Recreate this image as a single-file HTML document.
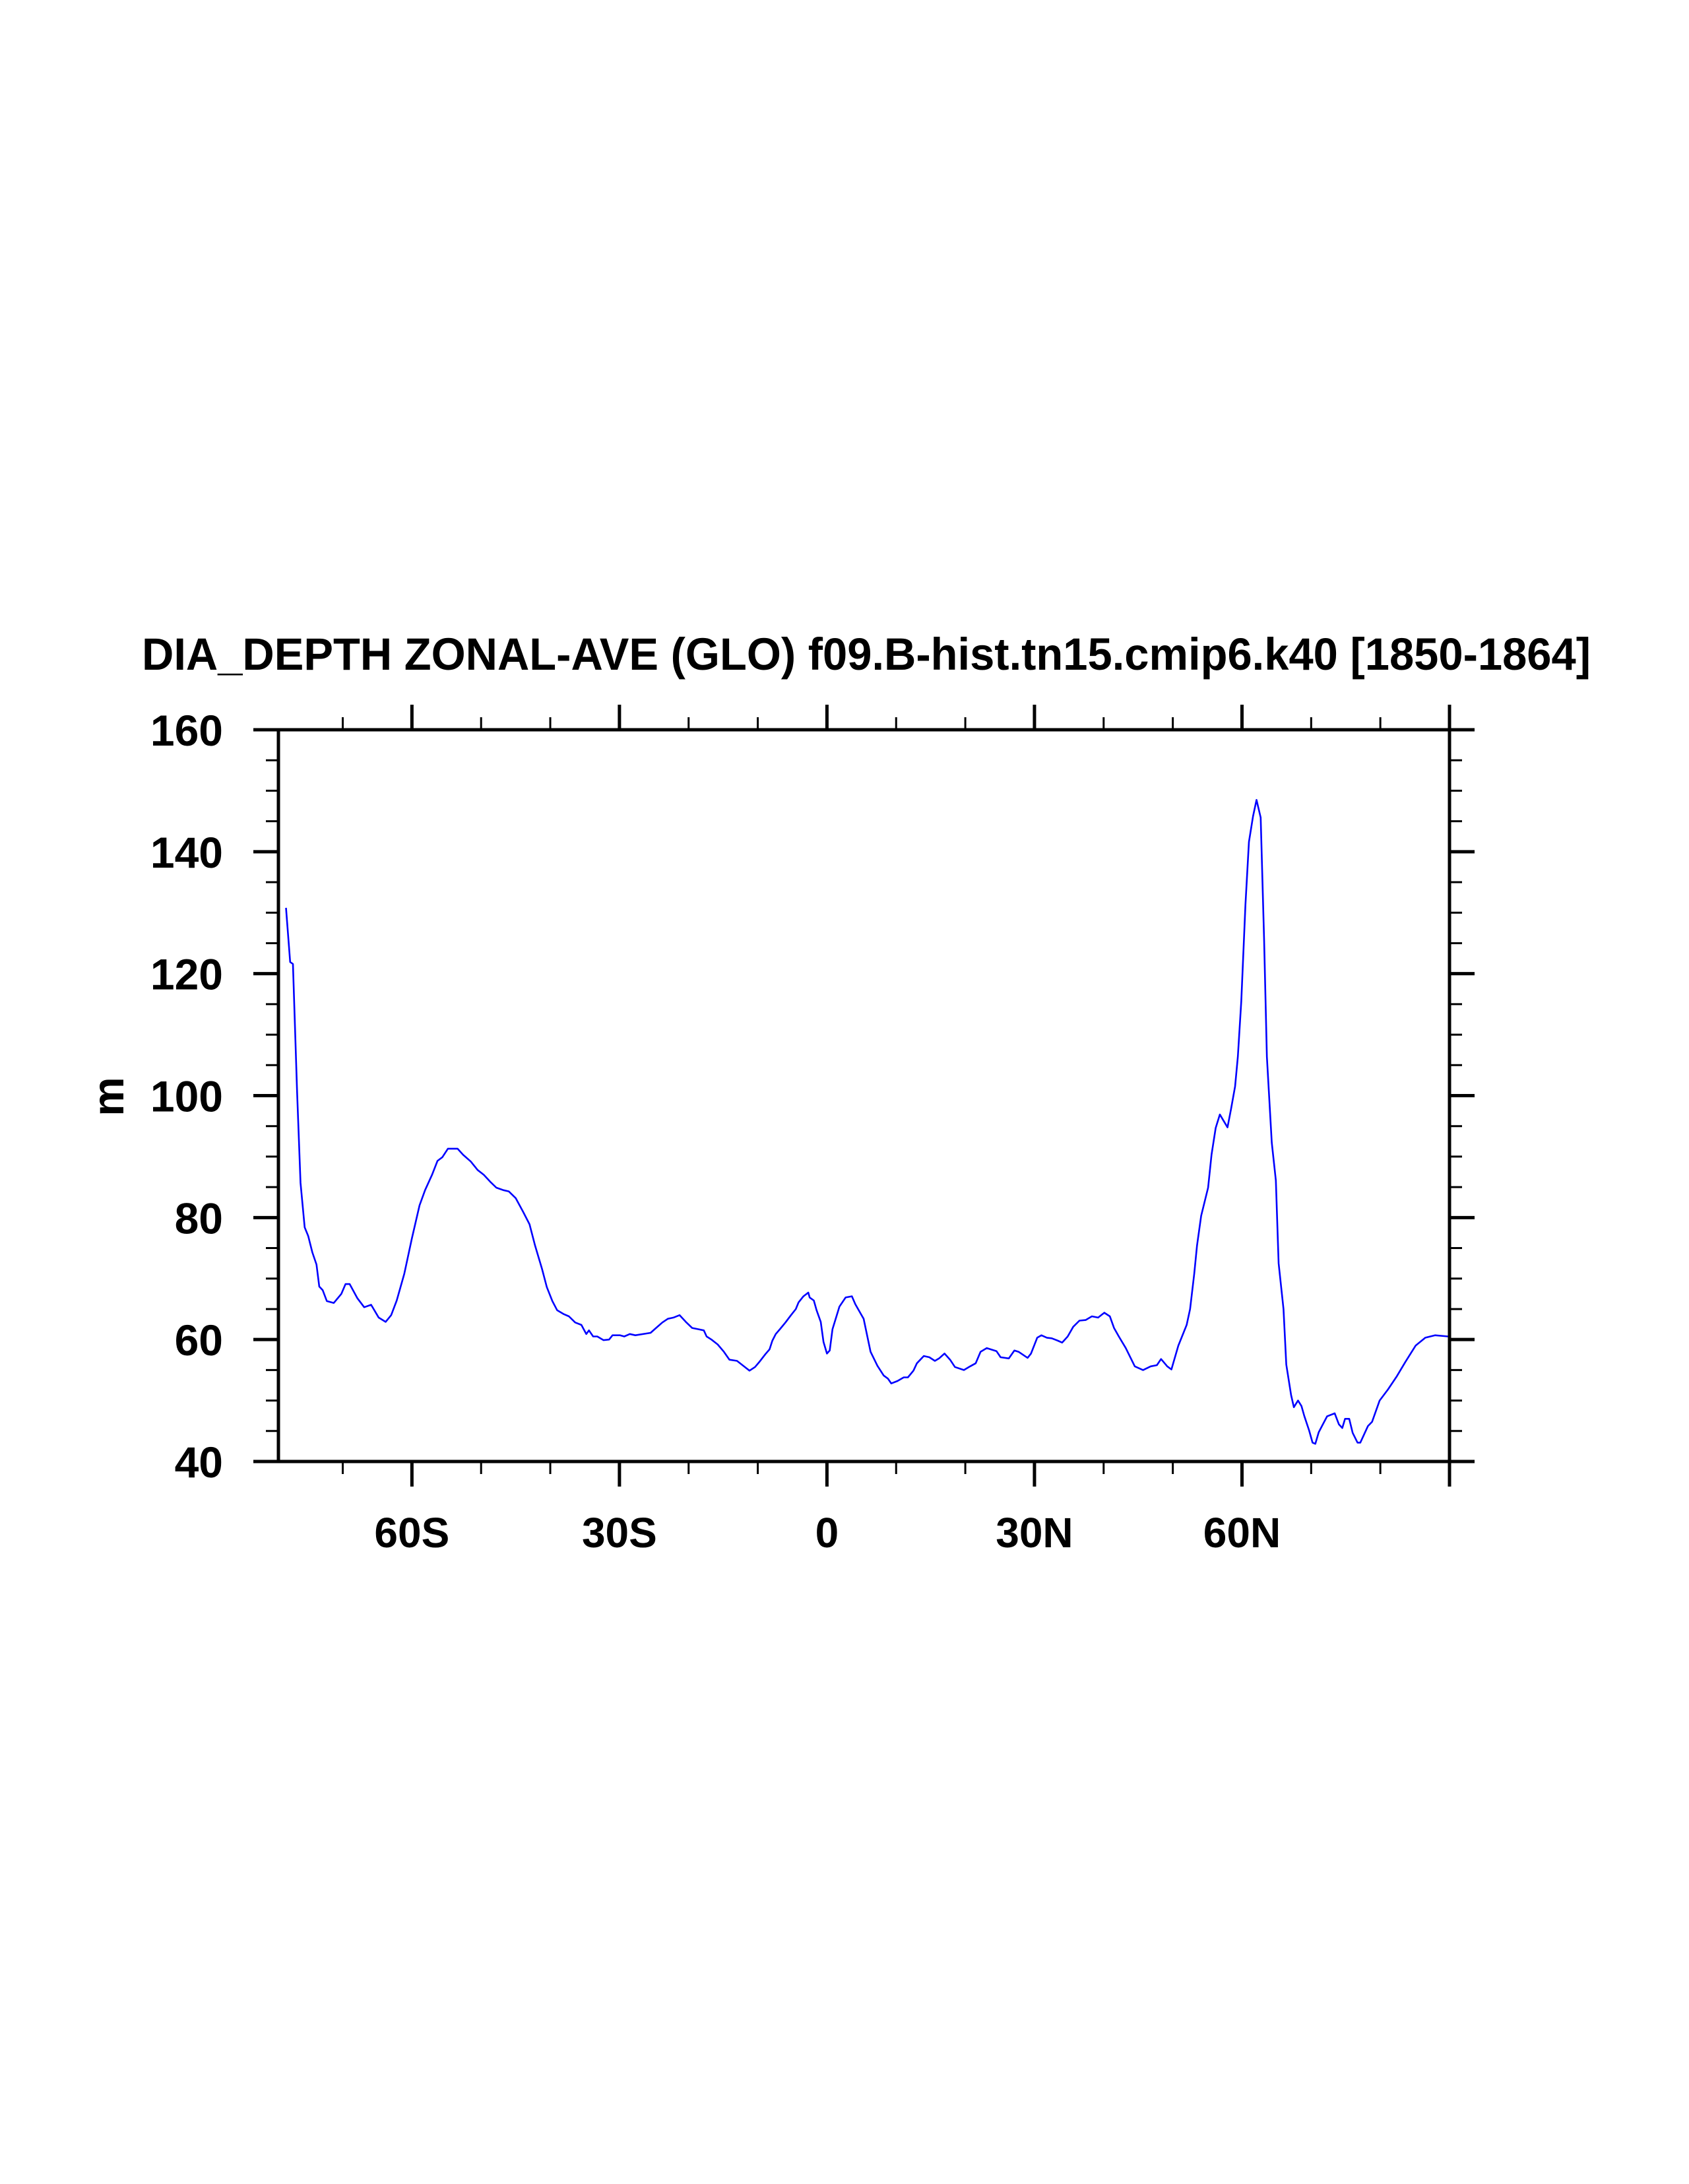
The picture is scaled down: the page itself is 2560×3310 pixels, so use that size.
<!DOCTYPE html>
<html><head><meta charset="utf-8"><style>
html,body{margin:0;padding:0;background:#fff}
svg{display:block}
text{font-family:"Liberation Sans",Arial,sans-serif;font-weight:bold;fill:#000}
</style></head><body>
<svg id="chart" width="2560" height="3310" viewBox="0 0 2560 3310" xmlns="http://www.w3.org/2000/svg">
<text x="1313" y="1015" font-size="69" text-anchor="middle" textLength="2196" lengthAdjust="spacingAndGlyphs">DIA_DEPTH ZONAL-AVE (GLO) f09.B-hist.tn15.cmip6.k40 [1850-1864]</text>
<text x="0" y="0" font-size="67" text-anchor="middle" transform="translate(187,1662) rotate(-90)">m</text>
<g id="ticks"></g>
<g id="labels"></g>
<path id="line" fill="none" stroke="#0000ff" stroke-width="2.6" stroke-linejoin="round"/>
<rect x="422" y="1106" width="1775" height="1109" fill="none" stroke="#000" stroke-width="5"/>
</svg>
<script>
const lats = [-78.2,-77.6,-77.2,-76.6,-76.1,-75.5,-75.0,-74.4,-73.8,-73.4,-72.9,-72.3,-71.3,-70.2,-69.6,-69.0,-67.9,-66.9,-65.9,-64.8,-63.8,-63.0,-62.2,-61.1,-60.0,-58.9,-58.1,-57.1,-56.3,-55.6,-54.8,-54.2,-53.4,-52.6,-51.5,-50.5,-49.6,-48.7,-47.8,-46.8,-46.0,-45.0,-43.9,-43.0,-42.2,-41.2,-40.5,-39.7,-39.0,-38.1,-37.3,-36.4,-35.5,-34.8,-34.4,-33.8,-33.2,-32.3,-31.5,-31.0,-29.9,-29.3,-28.5,-27.7,-25.5,-24.7,-23.8,-23.0,-22.2,-21.3,-20.4,-19.5,-18.6,-17.8,-17.4,-16.7,-15.8,-14.9,-14.1,-13.0,-12.1,-11.2,-10.4,-9.8,-8.9,-8.3,-7.9,-7.4,-6.8,-6.0,-5.2,-4.5,-4.1,-3.4,-2.7,-2.5,-1.9,-1.5,-0.9,-0.5,0.0,0.4,0.8,1.8,2.7,3.6,4.1,4.9,5.3,6.3,7.3,8.2,8.8,9.3,10.2,11.1,11.7,12.5,13.0,14.0,14.8,15.6,16.2,17.0,17.8,18.5,19.8,20.7,21.5,22.2,23.1,24.5,25.1,26.3,27.1,27.7,29.0,29.5,30.4,31.0,31.8,32.5,33.4,34.0,34.8,35.6,36.5,37.4,38.3,39.2,40.1,40.9,41.5,42.2,43.2,44.5,45.7,46.8,47.7,48.3,49.2,49.8,50.8,52.0,52.5,53.1,53.5,54.1,55.1,55.6,56.2,56.8,57.9,58.4,59.0,59.4,59.9,60.5,61.0,61.6,62.1,62.7,63.2,63.6,64.3,64.9,65.3,66.0,66.4,67.1,67.5,68.1,68.6,69.0,69.7,70.2,70.6,71.1,72.3,73.4,74.0,74.5,74.9,75.5,76.0,76.7,77.1,78.2,78.8,79.9,81.1,82.4,83.6,85.1,86.5,87.9,89.8];
const depths = [130.8,121.9,121.6,100.6,85.7,78.4,77.0,74.3,72.3,68.7,68.1,66.3,66.0,67.5,69.1,69.1,66.8,65.3,65.7,63.6,62.9,64.0,66.4,70.8,76.6,82.0,84.5,87.0,89.3,89.9,91.3,91.3,91.3,90.3,89.2,87.8,87.0,85.9,84.9,84.5,84.3,83.2,80.9,78.9,75.4,71.6,68.6,66.3,64.8,64.2,63.8,62.8,62.4,60.9,61.5,60.5,60.5,59.9,60.0,60.7,60.7,60.5,60.9,60.7,61.1,61.9,62.8,63.4,63.6,64.0,62.9,61.9,61.7,61.5,60.5,60.0,59.2,58.0,56.7,56.5,55.7,54.9,55.5,56.3,57.6,58.4,59.8,60.9,61.7,62.8,64.0,65.0,66.1,67.1,67.7,66.9,66.4,64.8,62.9,59.6,57.7,58.2,61.7,65.4,66.9,67.1,65.8,64.2,63.4,58.0,55.7,54.1,53.6,52.8,53.2,53.8,53.8,54.9,56.1,57.3,57.1,56.5,56.9,57.7,56.7,55.5,55.0,55.6,56.1,58.0,58.6,58.1,57.1,56.9,58.2,58.0,57.0,57.7,60.3,60.7,60.3,60.2,59.8,59.5,60.5,62.1,63.1,63.2,63.8,63.6,64.4,63.8,61.9,60.5,58.6,55.6,55.0,55.6,55.8,56.8,55.6,55.1,59.0,62.4,65.0,70.8,75.4,80.3,84.9,90.3,94.7,96.9,94.8,97.7,101.5,106.4,115.5,131.3,141.6,145.8,148.5,145.6,125.5,106.4,92.3,86.1,72.5,65.0,55.9,50.9,48.9,50.0,49.1,47.5,45.1,43.1,42.9,44.8,47.4,47.9,46.1,45.5,47.0,47.0,44.7,43.1,43.1,45.8,46.5,50.0,51.8,54.0,56.3,59.0,60.3,60.7,60.5];
const yTickValues = [40,60,80,100,120,140,160];
const yTickLabels = ["40","60","80","100","120","140","160"];
const xTickValues = [-60,-30,0,30,60];
const xTickLabels = ["60S","30S","0","30N","60N"];

const X0=422,X1=2197,Y0=1106,Y1=2215,LATMIN=-79.3,LATMAX=90,VMIN=40,VMAX=160;
function xs(l){return X0+(l-LATMIN)/(LATMAX-LATMIN)*(X1-X0);}
function ys(v){return Y1-(v-VMIN)/(VMAX-VMIN)*(Y1-Y0);}
const NS="http://www.w3.org/2000/svg";
const tg=document.getElementById('ticks'), lg=document.getElementById('labels');
function line(x1,y1,x2,y2,w,name){
  const l=document.createElementNS(NS,'line');
  l.setAttribute('x1',x1);l.setAttribute('y1',y1);l.setAttribute('x2',x2);l.setAttribute('y2',y2);
  l.setAttribute('stroke','#000');l.setAttribute('stroke-width',w);
  
  
  tg.appendChild(l);
}
for(let v=40;v<=160;v+=5){
  const y=ys(v), major=(v%20===0);
  const L=major?38:19, w=major?5:3;
  line(X0-L,y,X0,y,w,'y-tick');
  line(X1,y,X1+L,y,w,'y-tick-right');
}
for(let lat=-70;lat<=90;lat+=10){
  const x=xs(lat), major=(lat%30===0);
  const L=major?38:19, w=major?5:3;
  line(x,Y1,x,Y1+L,w,'x-tick');
  line(x,Y0-L,x,Y0,w,'x-tick-top');
}
yTickValues.forEach((v,i)=>{
  const t=document.createElementNS(NS,'text');
  t.setAttribute('x',338);t.setAttribute('y',ys(v)+24);
  t.setAttribute('font-size','66');t.setAttribute('text-anchor','end');
  t.textContent=yTickLabels[i];
  
  
  lg.appendChild(t);
});
xTickValues.forEach((v,i)=>{
  const t=document.createElementNS(NS,'text');
  t.setAttribute('x',xs(v));t.setAttribute('y',2345);
  t.setAttribute('font-size','64');t.setAttribute('text-anchor','middle');
  t.textContent=xTickLabels[i];
  
  
  lg.appendChild(t);
});
let d='';
lats.forEach((l,i)=>{d+=(i?'L':'M')+xs(l).toFixed(1)+','+ys(depths[i]).toFixed(1);});
document.getElementById('line').setAttribute('d',d);
</script>
</body></html>
